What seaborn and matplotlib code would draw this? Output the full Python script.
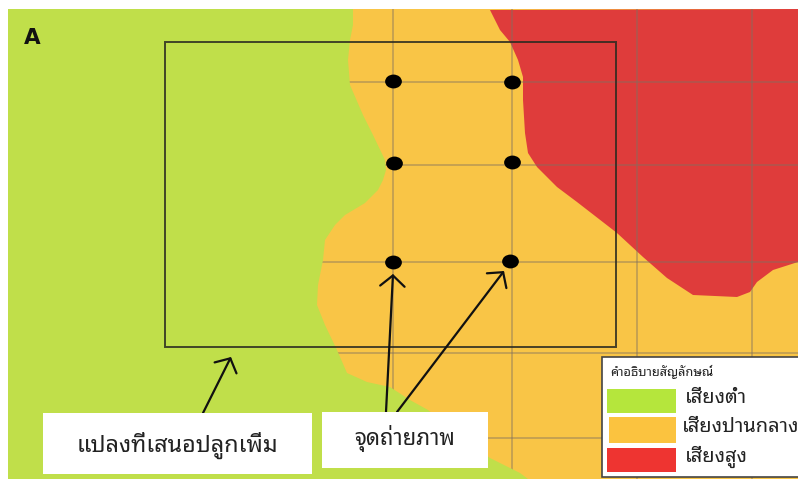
import matplotlib
matplotlib.use('Agg')
import matplotlib.pyplot as plt
import pandas as pd
import seaborn as sns
from matplotlib.markers import MarkerStyle
from matplotlib.patches import Rectangle
from matplotlib.transforms import Affine2D

# everything is in picture pixels, the map has no real axes
LOW_EDGE_X = [353, 353, 350, 348, 350, 363, 373, 385, 386, 383, 378, 365, 345, 335,
              325, 323, 318, 317, 325, 337, 347, 367, 390, 410, 428, 460, 490, 520, 528]
LOW_EDGE_Y = [9, 25, 40, 60, 85, 115, 135, 160, 170, 180, 190, 203, 215, 225,
              240, 260, 285, 305, 325, 350, 373, 382, 387, 400, 410, 435, 458, 473, 479]
HIGH_EDGE_X = [490, 500, 510, 518, 523, 523, 525, 528, 537, 557, 577, 617, 643, 667, 693,
               737, 750, 757, 773, 798]
HIGH_EDGE_Y = [10, 30, 42, 60, 77, 100, 133, 153, 167, 187, 202, 233, 257, 278, 295,
               297, 292, 282, 270, 262]
GRID_X = [393, 512, 637, 752]
GRID_Y = [82, 165, 262, 353, 438]
PHOTO_X = [393, 512, 394, 512, 393, 510]
PHOTO_Y = [81, 82, 163, 162, 262, 261]
LEGEND_LABELS = ['เสี่ยงต่ำ', 'เสี่ยงปานกลาง', 'เสี่ยงสูง']
LEGEND_TITLE = 'คำอธิบายสัญลักษณ์'
PLOT_LABEL = 'แปลงที่เสนอปลูกเพิ่ม'
PHOTO_LABEL = 'จุดถ่ายภาพ'

sns.set_theme(style='white')
plt.rcParams['font.family'] = ['Noto Sans Thai Looped', 'DejaVu Sans']

fig = plt.figure(figsize=(7.98, 4.79), dpi=100)
ax = fig.add_axes([0, 0, 1, 1])

ax.add_patch(Rectangle((8, 9), 790, 470, fc='#F9C546', ec='none', zorder=1))
ax.fill(HIGH_EDGE_X + [798], HIGH_EDGE_Y + [9], fc='#DF3C3B', ec='none', zorder=2)
for x in GRID_X:
    ax.plot([x, x], [9, 479], color='#7f7060', alpha=0.45, lw=1.3, solid_capstyle='butt', zorder=3)
for y in GRID_Y:
    ax.plot([320, 798], [y, y], color='#7f7060', alpha=0.45, lw=1.3, solid_capstyle='butt', zorder=3)
ax.fill([8] + LOW_EDGE_X + [8], [9] + LOW_EDGE_Y + [479], fc='#C0DF4A', ec='none', zorder=4)

ax.add_patch(Rectangle((165, 42), 451, 305, fc='none', ec='#2a2a20', alpha=0.85, lw=1.4, zorder=5))

oval = MarkerStyle('o', transform=Affine2D().scale(1.15, 0.95))
photo = pd.DataFrame({'x': PHOTO_X, 'y': PHOTO_Y})
sns.scatterplot(data=photo, x='x', y='y', marker=oval, s=110, color='black',
                linewidth=0, zorder=6, ax=ax)

for start, end in [((203, 413), (231, 357)), ((386, 412), (393, 274)), ((397, 412), (504, 271))]:
    ax.annotate('', xy=end, xytext=start, zorder=7,
                arrowprops=dict(arrowstyle='->,head_length=0.35,head_width=0.4', color='#111111',
                                lw=1.6, mutation_scale=22, shrinkA=0, shrinkB=0))

ax.add_patch(Rectangle((43, 413), 269, 61, fc='white', ec='none', zorder=8))
ax.add_patch(Rectangle((322, 412), 166, 56, fc='white', ec='none', zorder=8))
ax.text(177, 445, PLOT_LABEL, fontsize=16.8, color='#222222', ha='center', va='center', zorder=9)
ax.text(405, 439, PHOTO_LABEL, fontsize=15.9, color='#222222', ha='center', va='center', zorder=9)
ax.text(32, 38, 'A', fontsize=15.5, fontweight='bold', family='DejaVu Sans', color='#111111',
        ha='center', va='center', zorder=9)

# legend box, lower right
ax.add_patch(Rectangle((602, 357), 197, 120, fc='white', ec='#444444', lw=1.2, zorder=8))
ax.text(610, 372, LEGEND_TITLE, fontsize=9.2, fontweight='bold', color='#222222', va='center', zorder=9)
swatches = [(607, 389, 69, 24, '#B5E63C'), (609, 417, 67, 26, '#FBC33F'), (607, 448, 69, 24, '#EE3431')]
text_pos = [(685, 398), (682, 427), (685, 457)]
for (x, y, w, h, c), (tx, ty), label in zip(swatches, text_pos, LEGEND_LABELS):
    ax.add_patch(Rectangle((x, y), w, h, fc=c, ec='none', zorder=9))
    ax.text(tx, ty, label, fontsize=14.4, color='#222222', va='center', zorder=9)

ax.set_xlim(0, 798)
ax.set_ylim(479, 0)
ax.axis('off')

fig.savefig('out.png', dpi=100)
